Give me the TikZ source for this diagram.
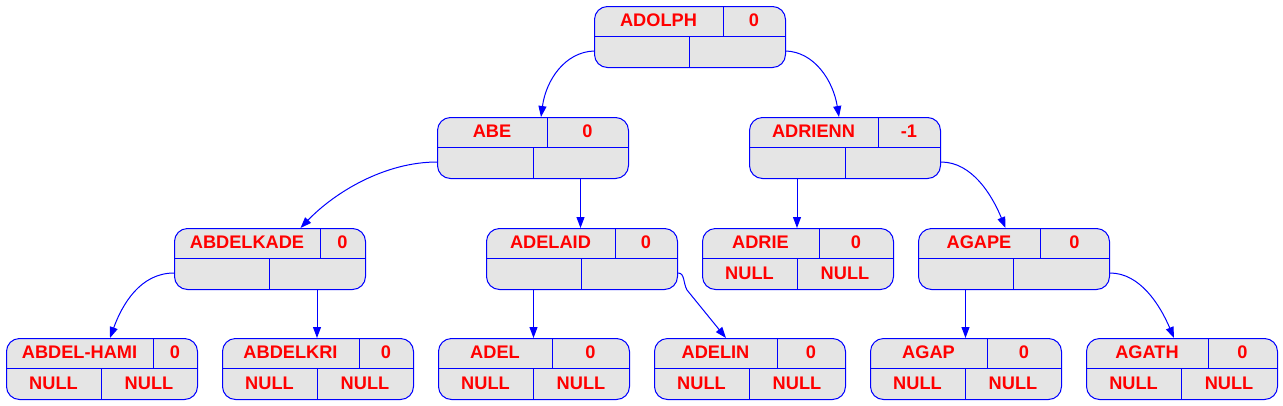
\documentclass[tikz,border=0pt]{standalone}
\usepackage{fontspec}
\setmainfont{Liberation Sans}
\usetikzlibrary{arrows.meta,calc}
\definecolor{cellgray}{HTML}{E5E5E5}
\tikzset{
  x=1pt,y=-1pt,
  recbox/.style={draw=blue,fill=cellgray,line width=1pt,rounded corners=13pt,minimum width=191pt,minimum height=61pt,inner sep=0pt,anchor=north west},
  divider/.style={draw=blue,line width=1pt},
  celltxt/.style={text=red,font=\fontsize{18.2}{20}\selectfont\bfseries,inner sep=0pt},
  edge/.style={draw=blue,line width=1pt,-{Triangle[length=11pt,width=8pt]}},
}
% name, left, top, topdiv, botdiv, label, balance, left text, right text
\newcommand\recnode[9]{%
  \node[recbox] (#1) at (#2,#3) {};
  \draw[divider] (#2,#3+30.5) -- (#2+191,#3+30.5);
  \draw[divider] (#4,#3) -- (#4,#3+30.5);
  \draw[divider] (#5,#3+30.5) -- (#5,#3+61);
  \node[celltxt] (#1-name) at ({(#2+#4)/2},#3+14.5) {#6};
  \node[celltxt] (#1-bal) at ({(#4+#2+191)/2},#3+14.5) {#7};
  \node[celltxt] (#1-l) at ({(#2+#5)/2},#3+45) {#8};
  \node[celltxt] (#1-r) at ({(#5+#2+191)/2},#3+45) {#9};
}
\begin{document}
\begin{tikzpicture}
\useasboundingbox (0,0) rectangle (1283,405);
\recnode{ADOLPH}{594}{6}{723}{689}{ADOLPH}{0}{}{}
\recnode{ABE}{437}{117}{547}{533}{ABE}{0}{}{}
\recnode{ADRIENN}{749}{117}{878}{845}{ADRIENN}{-1}{}{}
\recnode{ABDELKADE}{174}{228}{320}{269}{ABDELKADE}{0}{}{}
\recnode{ADELAID}{486}{228}{615}{581}{ADELAID}{0}{}{}
\recnode{ADRIE}{702}{228}{819}{797}{ADRIE}{0}{NULL}{NULL}
\recnode{AGAPE}{918}{228}{1040}{1013}{AGAPE}{0}{}{}
\recnode{ABDELHAMI}{6}{338}{153}{101}{ABDEL-HAMI}{0}{NULL}{NULL}
\recnode{ABDELKRI}{222}{338}{359}{317}{ABDELKRI}{0}{NULL}{NULL}
\recnode{ADEL}{438}{338}{552}{533}{ADEL}{0}{NULL}{NULL}
\recnode{ADELIN}{654}{338}{777}{749}{ADELIN}{0}{NULL}{NULL}
\recnode{AGAP}{870}{338}{987}{965}{AGAP}{0}{NULL}{NULL}
\recnode{AGATH}{1086}{338}{1208}{1181}{AGATH}{0}{NULL}{NULL}
% edges
\draw[edge] (ADOLPH.west |- ADOLPH-l) .. controls (565,52) and (546,80) .. ($(ABE.north)+(8,0)$);
\draw[edge] (ADOLPH.east |- ADOLPH-r) .. controls (814,52) and (833,80) .. ($(ADRIENN.north)+(-6,0)$);
\draw[edge] (ABE.west |- ABE-l) .. controls (385,162) and (335,192) .. ($(ABDELKADE.north)+(30.5,0)$);
\draw[edge] (ABE-r |- ABE.south) -- (ABE-r |- ADELAID.north);
\draw[edge] (ADRIENN-l |- ADRIENN.south) -- (ADRIENN-l |- ADRIE.north);
\draw[edge] (ADRIENN.east |- ADRIENN-r) .. controls (972,162) and (992,195) .. ($(AGAPE.north)+(-8.5,0)$);
\draw[edge] (ABDELKADE.west |- ABDELKADE-l) .. controls (140,273) and (122,305) .. ($(ABDELHAMI.north)+(8,0)$);
\draw[edge] (ABDELKADE-r |- ABDELKADE.south) -- (ABDELKADE-r |- ABDELKRI.north);
\draw[edge] (ADELAID-l |- ADELAID.south) -- (ADELAID-l |- ADEL.north);
\coordinate (bend) at (687,290);
\draw[edge] (ADELAID.east |- ADELAID-r) .. controls (685,273) and (683,283) .. (bend) -- ($(ADELIN.north)+(-24,0)$);
\draw[edge] (AGAPE-l |- AGAPE.south) -- (AGAPE-l |- AGAP.north);
\draw[edge] (AGAPE.east |- AGAPE-r) .. controls (1140,273) and (1160,305) .. ($(AGATH.north)+(-8,0)$);
\end{tikzpicture}
\end{document}
